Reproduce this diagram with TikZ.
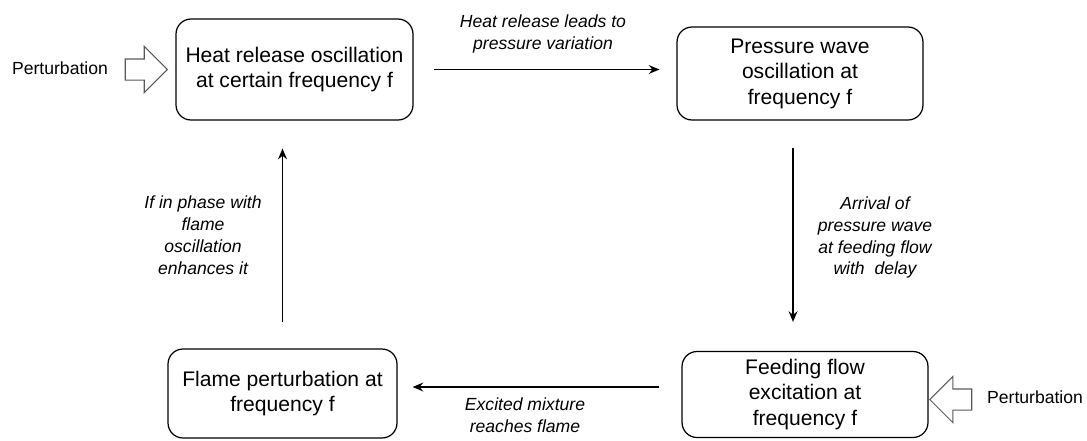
\documentclass[tikz,border=0pt]{standalone}
\usepackage{fontspec}
\setmainfont{Liberation Sans}
\usetikzlibrary{arrows.meta,shapes.arrows}

\begin{document}
\begin{tikzpicture}[x=0.02cm, y=-0.02cm,
    box/.style={draw, rounded corners=0.3cm, line width=0.7pt, align=center,
      inner sep=0pt, font=\fontsize{12}{14.5}\selectfont},
    flow/.style={-{Stealth[length=6pt, width=5pt]}, line width=1.1pt},
    note/.style={align=center, font=\fontsize{10}{12.5}\selectfont\itshape},
    inarrow/.style={shape=single arrow, draw=black!65, line width=0.6pt,
      inner sep=0.2cm, minimum height=0.84cm, single arrow head extend=0.25cm}]
    \useasboundingbox (0, 0) rectangle (1087, 440);
    % boxes
    \node [box, minimum width=4.74cm, minimum height=2.02cm] (heat)  at (294.5, 69.5)
      {Heat release oscillation\\at certain frequency f};
    \node [box, minimum width=4.92cm, minimum height=1.86cm] (press) at (800, 73.5)
      {Pressure wave\\oscillation at\\frequency f};
    \node [box, minimum width=4.92cm, minimum height=1.72cm] (feed)  at (805, 394.5)
      {Feeding flow\\excitation at\\frequency f};
    \node [box, minimum width=4.58cm, minimum height=1.78cm] (flame) at (282.5, 393.5)
      {Flame perturbation at\\frequency f};
    % loop
    \draw [flow, shorten <=0.4cm, shorten >=0.34cm]
      (heat.east) -- (heat.east -| press.west);
    \draw [flow, shorten <=0.54cm, shorten >=0.58cm]
      ([xshift=-0.14cm]press.south) -- ([xshift=-0.14cm]press.south |- feed.north);
    \draw [flow, shorten <=0.44cm, shorten >=0.3cm]
      ([yshift=0.15cm]feed.west) -- ([yshift=0.15cm]feed.west -| flame.east);
    \draw [flow, shorten <=0.52cm, shorten >=0.56cm]
      (flame.north) -- (flame.north |- heat.south);
    % labels
    \node [note] (lblheat)  at (543, 33.5)  {Heat release leads to\\pressure variation};
    \node [note] (lblpress) at (875, 237.5) {Arrival of\\pressure wave\\at feeding flow\\with\ \ delay};
    \node [note] (lblfeed)  at (525, 415)   {Excited mixture\\reaches flame};
    \node [note] (lblflame) at (203, 235)   {If in phase with\\flame\\oscillation\\enhances it};
    % perturbations
    \node [inarrow] (pertL) at (141, 69.5) {};
    \node [font=\fontsize{10}{12}\selectfont] (txtL) at (60, 68) {Perturbation};
    \node [inarrow, shape border rotate=180] (pertR) at (956, 399.5) {};
    \node [font=\fontsize{10}{12}\selectfont] (txtR) at (1035, 397) {Perturbation};
  \end{tikzpicture}
\end{document}
